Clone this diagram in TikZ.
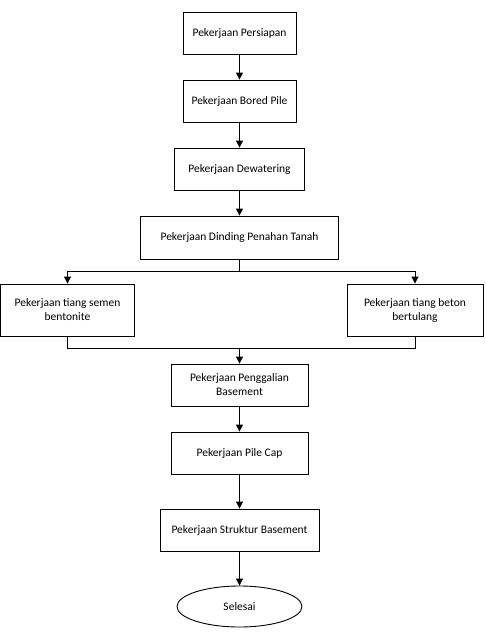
\documentclass[tikz,border=0pt]{standalone}
\usepackage{fontspec}
\setmainfont{Carlito}
\usetikzlibrary{arrows.meta,shapes.geometric}
\tikzset{
  kotak/.style={draw, line width=0.9pt, align=center, inner sep=2pt, font=\fontsize{11.5}{14}\selectfont},
  panah/.style={line width=1pt, -{Triangle[length=7pt,width=7pt]}}
}
\begin{document}
\begin{tikzpicture}[x=1pt, y=-1pt]
        \useasboundingbox (0,0) rectangle (486,634);

        \node[kotak, minimum width=113pt, minimum height=42pt] (persiapan) at (239.5,33) {Pekerjaan Persiapan};
        \node[kotak, minimum width=113pt, minimum height=42pt] (bored) at (239.5,101) {Pekerjaan Bored Pile};
        \node[kotak, minimum width=130pt, minimum height=42pt] (dewatering) at (239.5,169) {Pekerjaan Dewatering};
        \node[kotak, minimum width=198pt, minimum height=43pt] (dinding) at (239.5,237.5) {Pekerjaan Dinding Penahan Tanah};

        \node[kotak, minimum width=134pt, minimum height=52pt] (semen) at (67.5,310) {Pekerjaan tiang semen\\bentonite};
        \node[kotak, minimum width=136pt, minimum height=52pt] (beton) at (415,310) {Pekerjaan tiang beton\\bertulang};

        \node[kotak, minimum width=137pt, minimum height=42pt] (galian) at (239.5,385) {Pekerjaan Penggalian\\Basement};
        \node[kotak, minimum width=137pt, minimum height=42pt] (pilecap) at (239.5,453) {Pekerjaan Pile Cap};
        \node[kotak, minimum width=159pt, minimum height=42pt] (struktur) at (239.5,530) {Pekerjaan Struktur Basement};
        \node[kotak, ellipse, minimum width=125pt, minimum height=41pt] (selesai) at (239.5,606.5) {Selesai};

        \coordinate (cabang) at (239.5,271);
        \coordinate (gabung) at (239.5,348);

        \draw[panah] (persiapan) -- (bored);
        \draw[panah] (bored) -- (dewatering);
        \draw[panah] (dewatering) -- (dinding);

        %\draw[panah] (dinding) -- (semen);
        \draw[line width=1pt] (dinding.south) -- (cabang);
        \draw[panah] (cabang) -| (semen.north);
        \draw[panah] (cabang) -| (beton.north);

        \draw[line width=1pt] (semen.south) |- (gabung);
        \draw[line width=1pt] (beton.south) |- (gabung);
        \draw[panah] (gabung) -- (galian);

        \draw[panah] (galian) -- (pilecap);
        \draw[panah] (pilecap) -- (struktur);
        \draw[panah] (struktur) -- (selesai);
    \end{tikzpicture}
\end{document}
